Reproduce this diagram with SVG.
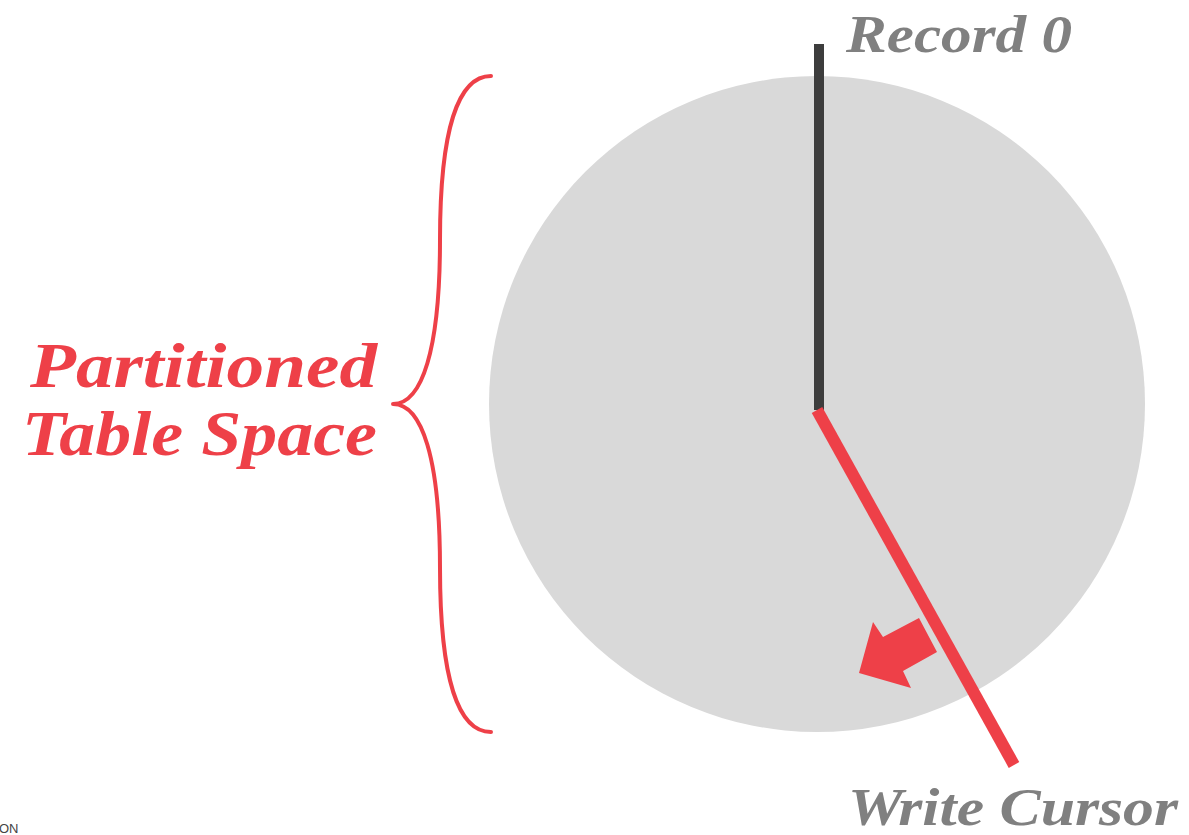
<svg xmlns="http://www.w3.org/2000/svg" width="1189" height="835" viewBox="0 0 1189 835">
<style>
.lbl{font-family:"Liberation Serif","DejaVu Serif",serif;font-weight:bold;font-style:italic}
.gray{fill:#808080}
.red{fill:#ee4048}
</style>
<rect width="1189" height="835" fill="#ffffff"/>
<g id="disk"><circle cx="817" cy="404" r="328" fill="#d9d9d9"/></g>
<g id="connectors">
<line x1="819" y1="44" x2="819" y2="410" stroke="#3d3d3d" stroke-width="10"/>
<line x1="817" y1="410" x2="1014" y2="765" stroke="#ee4048" stroke-width="12"/>
<polygon points="859,673 873,622 883,637 919,618 937,652 903,671 911,688" fill="#ee4048"/>
<path d="M491,76 C458,76 440,130 440,240 C440,350 422,404 393,404 C422,404 440,458 440,568 C440,678 458,732 491,732" fill="none" stroke="#ee4048" stroke-width="4" stroke-linecap="round" stroke-linejoin="round"/>
</g>
<g id="record0"><text class="lbl gray" x="846" y="52" font-size="52" textLength="226" lengthAdjust="spacingAndGlyphs">Record 0</text></g>
<g id="writecursor"><text class="lbl gray" x="848" y="825" font-size="52" textLength="330" lengthAdjust="spacingAndGlyphs">Write Cursor</text></g>
<g id="partition">
<text class="lbl red" x="30" y="387" font-size="64" textLength="347" lengthAdjust="spacingAndGlyphs">Partitioned</text>
<text class="lbl red" x="22" y="455" font-size="64" textLength="355" lengthAdjust="spacingAndGlyphs">Table Space</text>
</g>
<g id="footer"><text x="-1" y="833" font-family="Liberation Sans, sans-serif" font-size="13" fill="#444">ON</text></g>
</svg>
